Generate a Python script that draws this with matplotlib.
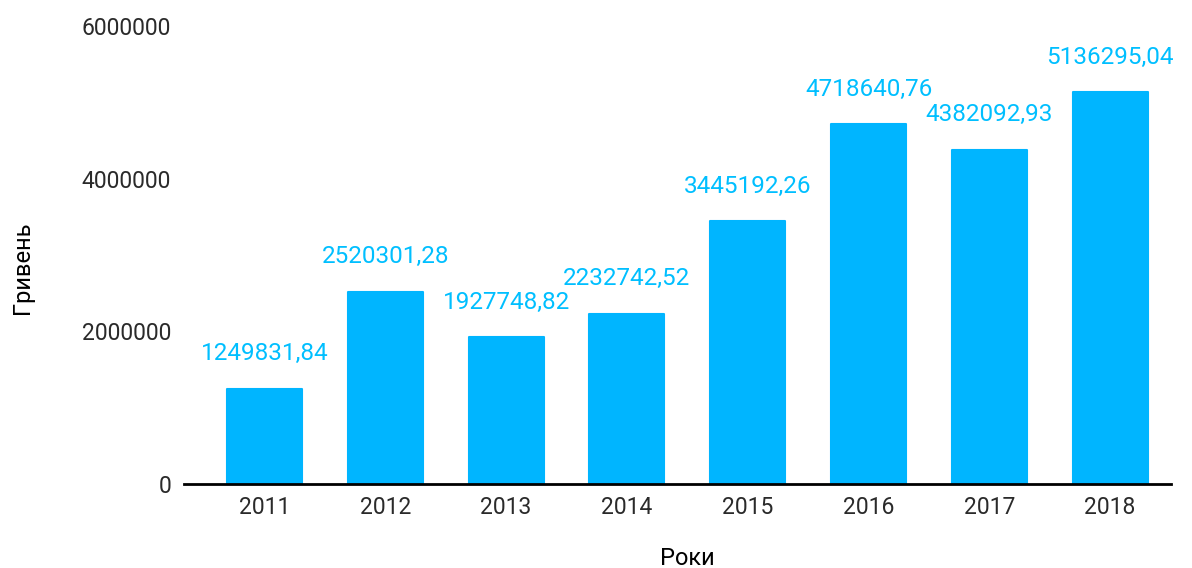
'''
Bar chart: amounts by year (UAH)
'''
import numpy as np
import matplotlib.pyplot as plt

plt.rcParams['font.family'] = ['Roboto', 'DejaVu Sans']

years = ['2011', '2012', '2013', '2014', '2015', '2016', '2017', '2018']
values = [1249831.84, 2520301.28, 1927748.82, 2232742.52,
          3445192.26, 4718640.76, 4382092.93, 5136295.04]
labels = ['1249831,84', '2520301,28', '1927748,82', '2232742,52',
          '3445192,26', '4718640,76', '4382092,93', '5136295,04']
yticks = [0, 2000000, 4000000, 6000000]

bar_color = '#00b5ff'
label_color = '#00bfff'

fig = plt.figure(figsize=(11.92, 5.68), dpi=100)
ax = fig.add_axes([0.154, 0.148, 0.828, 0.806])

x = np.arange(len(years))
bars = ax.bar(x, values, width=0.62, color=bar_color, edgecolor=bar_color,
              linewidth=1.5, joinstyle='round')

# value labels above bars
for xi, v, t in zip(x, values, labels):
    ax.annotate(t, (xi, v), xytext=(0, 25), textcoords='offset points',
                ha='center', va='center', fontsize=17.5, color=label_color)

ax.set_xlim(-0.67, 7.5)
ax.set_ylim(0, 6000000)
ax.set_xticks(x)
ax.set_xticklabels(years)
ax.set_yticks(yticks)
ax.set_yticklabels([str(t) for t in yticks])
ax.tick_params(length=0, labelsize=16.5, labelcolor='#2a2a2a')
ax.tick_params(axis='x', pad=9)
ax.tick_params(axis='y', pad=9)

for s in ['top', 'right', 'left']:
    ax.spines[s].set_visible(False)
ax.spines['bottom'].set_linewidth(2)
ax.spines['bottom'].set_color('black')

fig.text(0.577, 0.017, 'Роки', fontsize=17, color='black',
         ha='center', va='center')
fig.text(0.019, 0.528, 'Гривень', fontsize=17, color='black',
         ha='center', va='center', rotation=90)

plt.savefig('out.png', dpi=100)
